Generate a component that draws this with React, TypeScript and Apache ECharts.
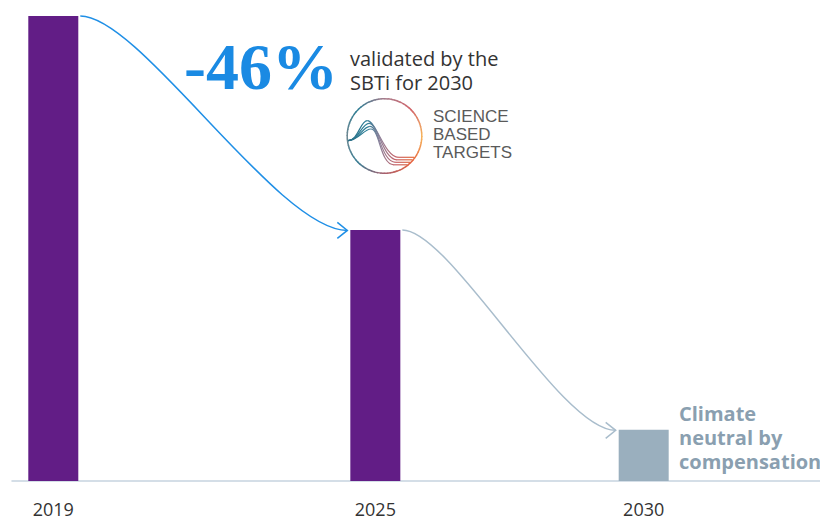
import React, { useEffect, useRef } from "react";
import * as echarts from "echarts";

// ---- data ----
const years = [2019, 2025, 2030];
const emissions = [100, 54, 11];
const barColors = ["#621d86", "#621d86", "#9aafbe"];
const tickYears = [2019, 2025, 2030];
const arrowFrom = [
  [2019, 100],
  [2025, 54],
];
const arrowTo = [
  [2025, 54],
  [2030, 11],
];
const arrowColors = ["#1f8fe6", "#a9bdcc"];
const headline = "-46%";
const validatedLines = ["validated by the", "SBTi for 2030"];
const logoLines = ["SCIENCE", "BASED", "TARGETS"];
const noteLines = ["Climate", "neutral by", "compensation"];

// ---- helpers for logo styling ----
function hexToRgb(h: string) {
  const n = parseInt(h.slice(1), 16);
  return [(n >> 16) & 255, (n >> 8) & 255, n & 255];
}
function mix(a: string, b: string, t: number) {
  const A = hexToRgb(a);
  const B = hexToRgb(b);
  const c = A.map((v, i) => Math.round(v + (B[i] - v) * t));
  return `rgb(${c[0]},${c[1]},${c[2]})`;
}
const ringStops = [
  "#f7b65c", // right
  "#e5603e", // bottom-right
  "#a8606e", // bottom
  "#3a7f95", // bottom-left
  "#6f8791", // left
  "#2a7c93", // top-left
  "#a77c8c", // top
  "#d2646a", // top-right
  "#f7b65c",
];

function buildLogo(cx: number, cy: number, r: number) {
  const els: any[] = [];
  const N = 72;
  for (let i = 0; i < N; i++) {
    const a0 = (i / N) * Math.PI * 2;
    const a1 = ((i + 1.2) / N) * Math.PI * 2;
    const pos = ((i + 0.5) / N) * (ringStops.length - 1);
    const k = Math.floor(pos);
    const color = mix(ringStops[k], ringStops[Math.min(k + 1, ringStops.length - 1)], pos - k);
    els.push({
      type: "arc",
      shape: { cx, cy, r, startAngle: a0, endAngle: a1, clockwise: true },
      style: { stroke: color, lineWidth: 1.5, fill: null },
      silent: true,
    });
  }
  const grad = {
    type: "linear",
    x: cx - r,
    y: 0,
    x2: cx + r * 0.75,
    y2: 0,
    global: true,
    colorStops: [
      { offset: 0, color: "#2c6f86" },
      { offset: 0.3, color: "#2a7e98" },
      { offset: 0.5, color: "#8b7f98" },
      { offset: 0.75, color: "#c8646a" },
      { offset: 1, color: "#e46a3c" },
    ],
  };
  const sx = cx - r + 0.8;
  const sy = cy + 4.7;
  const peaks = [
    [-17.2, -15.3],
    [-15.5, -12.7],
    [-14.6, -9.7],
    [-13.6, -7],
  ];
  const tails = [21.3, 23.8, 26.3, 28.8];
  peaks.forEach((pk, i) => {
    const px = cx + pk[0];
    const py = cy + pk[1];
    const ty = cy + tails[i];
    const tx = cx + 14 - i * 1.5;
    const ex = cx + Math.sqrt(r * r - tails[i] * tails[i]) - 1;
    els.push({
      type: "bezierCurve",
      shape: { x1: sx, y1: sy, cpx1: sx + 10, cpy1: sy, cpx2: px - 7, cpy2: py, x2: px, y2: py },
      style: { stroke: grad, lineWidth: 1.2, fill: null },
      silent: true,
    });
    els.push({
      type: "bezierCurve",
      shape: { x1: px, y1: py, cpx1: px + 9, cpy1: py, cpx2: tx - 14, cpy2: ty, x2: tx, y2: ty },
      style: { stroke: grad, lineWidth: 1.2, fill: null },
      silent: true,
    });
    els.push({
      type: "line",
      shape: { x1: tx - 0.3, y1: ty, x2: ex, y2: ty },
      style: { stroke: grad, lineWidth: 1.2 },
      silent: true,
    });
  });
  return els;
}

export default function App() {
  const ref = useRef<HTMLDivElement>(null);

  useEffect(() => {
    if (!ref.current) return;
    const chart = echarts.init(ref.current, null, { renderer: "svg" });

    const barData = years.map((y, i) => ({
      value: [y, emissions[i]],
      itemStyle: { color: barColors[i] },
    }));
    const linkData = arrowFrom.map((f, i) => [f[0], f[1], arrowTo[i][0], arrowTo[i][1]]);
    const halfBar = 25;

    const textEls: any[] = [
      {
        type: "text",
        x: 184,
        y: 66,
        style: {
          text: headline,
          font: "bold 66px 'Liberation Serif', serif",
          fill: "#1a8ae3",
          align: "left",
          verticalAlign: "middle",
        },
        silent: true,
      },
      {
        type: "text",
        x: 350,
        y: 46,
        style: {
          text: validatedLines.join("\n"),
          font: "20px 'Open Sans', sans-serif",
          lineHeight: 24,
          fill: "#333333",
          align: "left",
          verticalAlign: "top",
        },
        silent: true,
      },
      {
        type: "text",
        x: 433,
        y: 107.2,
        style: {
          text: logoLines.join("\n"),
          font: "17px 'Liberation Sans', Arial, sans-serif",
          lineHeight: 18.3,
          fill: "#5a5a5a",
          align: "left",
          verticalAlign: "top",
        },
        silent: true,
      },
      {
        type: "text",
        x: 679,
        y: 401,
        style: {
          text: noteLines.join("\n"),
          font: "bold 20px 'Open Sans', sans-serif",
          lineHeight: 24.2,
          fill: "#8a9fb0",
          align: "left",
          verticalAlign: "top",
        },
        silent: true,
      },
    ];

    chart.setOption({
      animation: false,
      grid: { left: 12, right: 0, top: 16, bottom: 36.5, containLabel: false },
      xAxis: {
        type: "value",
        min: 2018.2305,
        max: 2033.285,
        axisLine: { show: true, lineStyle: { color: "#c6d3df", width: 1.5 } },
        axisTick: { show: false },
        splitLine: { show: false },
        axisLabel: {
          customValues: tickYears,
          formatter: (v: number) => String(v),
          color: "#333333",
          fontSize: 18,
          lineHeight: 16,
          fontFamily: "'Open Sans', sans-serif",
          margin: 20,
        },
      },
      yAxis: {
        type: "value",
        min: 0,
        max: 100,
        show: false,
        splitLine: { show: false },
      },
      series: [
        {
          type: "bar",
          data: barData,
          barWidth: 50,
          silent: true,
          z: 2,
        },
        {
          type: "custom",
          coordinateSystem: "cartesian2d",
          encode: { x: [0, 2], y: [1, 3] },
          data: linkData,
          silent: true,
          z: 3,
          renderItem: (params: any, api: any) => {
            const a = api.coord([api.value(0), api.value(1)]);
            const b = api.coord([api.value(2), api.value(3)]);
            const x0 = a[0] + halfBar + 2;
            const y0 = a[1];
            const x1 = b[0] - halfBar - 3;
            const y1 = b[1] + 0.5;
            const dx = x1 - x0;
            const color = arrowColors[params.dataIndex];
            return {
              type: "group",
              children: [
                {
                  type: "bezierCurve",
                  shape: {
                    x1: x0,
                    y1: y0,
                    cpx1: x0 + dx * 0.225,
                    cpy1: y0,
                    cpx2: x1 - dx * 0.26,
                    cpy2: y1,
                    x2: x1,
                    y2: y1,
                  },
                  style: { stroke: color, lineWidth: 1.5, fill: null },
                },
                {
                  type: "polyline",
                  shape: { points: [[x1 - 10, y1 - 8], [x1, y1], [x1 - 10, y1 + 8]] },
                  style: { stroke: color, lineWidth: 1.5, fill: null },
                },
              ],
            };
          },
        },
      ],
      graphic: [...buildLogo(384.5, 136, 37.3), ...textEls],
    });

    return () => chart.dispose();
  }, []);

  return (
    <div
      ref={ref}
      style={{ position: "fixed", left: 0, top: 0, width: 820, height: 518, background: "#ffffff" }}
    />
  );
}
